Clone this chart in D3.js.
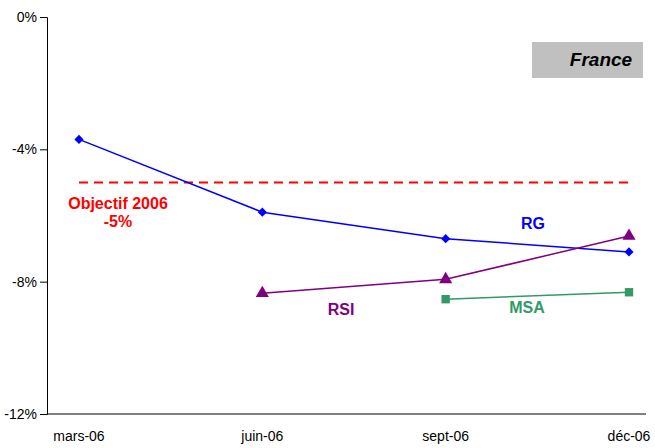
<!DOCTYPE html>
<html><head><meta charset="utf-8">
<script src="https://cdn.jsdelivr.net/npm/d3@7"></script>
<style>body{margin:0;background:#fff}svg{display:block;font-family:"Liberation Sans",Arial,sans-serif}</style>
</head><body><svg id="c" width="655" height="448"></svg>
<script>
const categories = ["mars-06","juin-06","sept-06","déc-06"];
const rgValues  = [-3.7, -5.9, -6.7, -7.1];
const rsiValues = [null, -8.35, -7.93, -6.62];
const msaValues = [null, null, -8.53, -8.32];
const objectif  = -5;
const yTicks = [0, -4, -8, -12];

const svg = d3.select("#c");
const x = d3.scalePoint().domain(categories).range([79, 629]);
const y = d3.scaleLinear().domain([-12, 0]).range([414, 17]);

// axes
const yAxis = svg.append("g").attr("transform","translate(47,0)")
  .call(d3.axisLeft(y).tickValues(yTicks).tickSize(7).tickFormat(d=>d+"%"));
yAxis.select(".domain").attr("stroke","#000");
yAxis.selectAll("text").attr("font-size",14).attr("font-family","Liberation Sans, Arial, sans-serif").attr("fill","#000").attr("dx",0);

svg.append("line").attr("x1",47).attr("x2",646).attr("y1",y(-12)).attr("y2",y(-12)).attr("stroke","#000");
svg.append("g").selectAll("text").data(categories).join("text")
  .attr("x",d=>x(d)).attr("y",441).attr("text-anchor","middle")
  .attr("font-size",14).text(d=>d);

// objective
svg.append("line").attr("x1",x(categories[0])).attr("x2",x(categories[3]))
  .attr("y1",y(objectif)).attr("y2",y(objectif))
  .attr("stroke","#ff0000").attr("stroke-width",2).attr("stroke-dasharray","9,6");

function series(vals, color, shape, size, rot){
  const pts = categories.map((c,i)=>({c, v: vals[i]})).filter(d=>d.v!==null);
  svg.append("path").datum(pts)
    .attr("d", d3.line().x(d=>x(d.c)).y(d=>y(d.v)))
    .attr("fill","none").attr("stroke",color).attr("stroke-width",1.5);
  svg.append("g").selectAll("path").data(pts).join("path")
    .attr("transform",d=>`translate(${x(d.c)},${y(d.v)}) rotate(${rot})`)
    .attr("d", d3.symbol().type(shape).size(size)).attr("fill",color);
}
series(rgValues, "#0000ff", d3.symbolSquare, 42, 45);
series(rsiValues, "#800080", d3.symbolTriangle, 75, 0);
series(msaValues, "#339966", d3.symbolSquare, 70, 0);

// France box
svg.append("rect").attr("x",532).attr("y",42).attr("width",111).attr("height",36).attr("fill","#c0c0c0");
svg.append("text").attr("x",601).attr("y",66).attr("text-anchor","middle")
  .attr("font-size",19).attr("font-weight","bold").attr("font-style","italic").text("France");

// labels
const lab = (t,xx,yy,c)=>svg.append("text").attr("x",xx).attr("y",yy).attr("text-anchor","middle")
  .attr("font-size",16).attr("font-weight","bold").attr("fill",c).text(t);
lab("Objectif 2006",118,209,"#ff0000");
lab("-5%",118,227,"#ff0000");
lab("RG",533,229,"#0000ff");
lab("RSI",341,315,"#800080");
lab("MSA",527,313,"#339966");
</script></body></html>
